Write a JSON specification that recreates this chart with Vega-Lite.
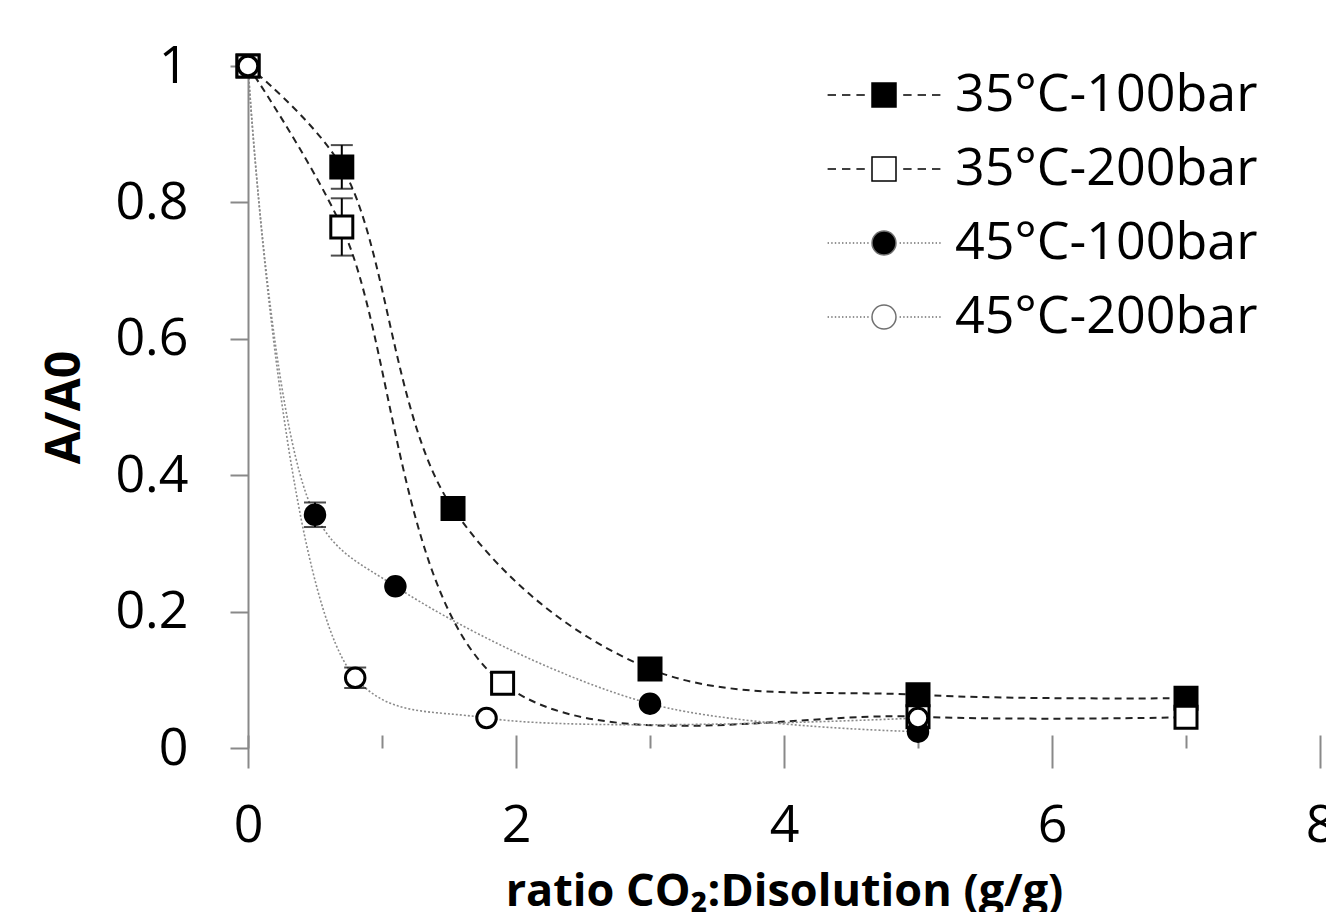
{
  "$schema": "https://vega.github.io/schema/vega-lite/v6.json",
  "width": 1072,
  "height": 682,
  "autosize": {"type": "none"},
  "padding": {"left": 248, "top": 66, "right": 6, "bottom": 164},
  "background": "white",
  "config": {"view": {"stroke": null}, "font": "Open Sans"},
  "datasets": {
    "pts": [
      {"series": "35°C-100bar", "x": 0, "y": 1},
      {"series": "35°C-100bar", "x": 0.7, "y": 0.852, "err": 0.032},
      {"series": "35°C-100bar", "x": 1.53, "y": 0.351, "err": 0.012},
      {"series": "35°C-100bar", "x": 3, "y": 0.116},
      {"series": "35°C-100bar", "x": 5, "y": 0.078},
      {"series": "35°C-100bar", "x": 7, "y": 0.073},
      {"series": "35°C-200bar", "x": 0, "y": 1},
      {"series": "35°C-200bar", "x": 0.7, "y": 0.764, "err": 0.042},
      {"series": "35°C-200bar", "x": 1.9, "y": 0.095},
      {"series": "35°C-200bar", "x": 5, "y": 0.046},
      {"series": "35°C-200bar", "x": 7, "y": 0.045},
      {"series": "45°C-100bar", "x": 0, "y": 1},
      {"series": "45°C-100bar", "x": 0.5, "y": 0.342, "err": 0.018},
      {"series": "45°C-100bar", "x": 1.1, "y": 0.237},
      {"series": "45°C-100bar", "x": 3, "y": 0.065},
      {"series": "45°C-100bar", "x": 5, "y": 0.024},
      {"series": "45°C-200bar", "x": 0, "y": 1},
      {"series": "45°C-200bar", "x": 0.8, "y": 0.103, "err": 0.015},
      {"series": "45°C-200bar", "x": 1.78, "y": 0.044},
      {"series": "45°C-200bar", "x": 5, "y": 0.044}
    ]
  },
  "data": {"name": "pts"},
  "resolve": {"scale": {"fill": "independent"}, "legend": {"fill": "independent"}},
  "encoding": {
    "x": {
      "field": "x", "type": "quantitative",
      "scale": {"domain": [0, 8], "nice": false, "zero": false},
      "axis": {
        "title": "ratio CO₂:Disolution (g/g)",
        "values": [0, 1, 2, 3, 4, 5, 6, 7, 8],
        "offset": -13, "domain": false, "grid": false,
        "tickSize": {"condition": {"test": "datum.value % 2 === 0", "value": 33}, "value": 13},
        "tickColor": "#898989", "tickWidth": 2,
        "labelExpr": "datum.value % 2 === 0 ? datum.label : ''",
        "labelFont": "Open Sans", "labelFontSize": 52, "labelColor": "black",
        "labelPadding": 32, "labelFlush": false, "labelOverlap": false,
        "titleFont": "Open Sans", "titleFontSize": 45, "titleFontWeight": "bold",
        "titleColor": "black", "titlePadding": 18
      }
    },
    "y": {
      "field": "y", "type": "quantitative",
      "scale": {"domain": [0, 1], "nice": false},
      "axis": {
        "title": "A/A0",
        "values": [0, 0.2, 0.4, 0.6, 0.8, 1],
        "format": "~g", "grid": false,
        "tickSize": 18, "tickColor": "#898989", "tickWidth": 2,
        "domainColor": "#898989", "domainWidth": 2,
        "labelFont": "Open Sans", "labelFontSize": 52, "labelColor": "black",
        "labelPadding": 42, "labelOverlap": false,
        "titleFont": "Open Sans", "titleFontSize": 48, "titleFontWeight": "bold",
        "titleColor": "black", "titlePadding": 25
      }
    }
  },
  "layer": [
    {
      "data": {"values": [{}]},
      "mark": {"type": "rule", "color": "#898989", "strokeWidth": 2},
      "encoding": {"x": {"datum": 0}, "x2": {"datum": 8}, "y": {"datum": 0}}
    },
    {
      "transform": [{"filter": "indexof(datum.series, '35') === 0"}],
      "mark": {"type": "line", "interpolate": "catmull-rom", "color": "#222222", "strokeWidth": 2, "strokeDash": [7, 5]},
      "encoding": {"detail": {"field": "series"}}
    },
    {
      "transform": [{"filter": "indexof(datum.series, '45') === 0"}],
      "mark": {"type": "line", "interpolate": "catmull-rom", "color": "#8a8a8a", "strokeWidth": 1.6, "strokeDash": [2, 2]},
      "encoding": {"detail": {"field": "series"}}
    },
    {
      "transform": [{"filter": "isValid(datum.err)"}],
      "mark": {"type": "errorbar", "color": "black", "ticks": {"size": 22, "thickness": 2, "color": "black"}, "rule": {"strokeWidth": 2, "color": "black"}},
      "encoding": {"yError": {"field": "err"}}
    },
    {
      "transform": [{"filter": "indexof(datum.series, '35') === 0"}],
      "mark": {"type": "point", "shape": "square", "size": 484, "filled": true, "stroke": "black", "strokeWidth": 3, "opacity": 1},
      "encoding": {
        "fill": {
          "field": "series", "type": "nominal",
          "scale": {"domain": ["35°C-100bar", "35°C-200bar"], "range": ["black", "white"]},
          "legend": {
            "orient": "none", "legendX": 610, "legendY": 3, "title": null, "padding": 0,
            "labelFont": "Open Sans", "labelFontSize": 52, "labelColor": "black", "labelLimit": 0,
            "labelOffset": 45, "rowPadding": 22, "symbolSize": 576,
            "symbolStrokeWidth": 1.5, "symbolStrokeColor": "#000000", "symbolOpacity": 1,
            "symbolType": "M-1,-1H1V1H-1Z M-4.7,0H-4 M-3.5,0H-2.8 M-2.3,0H-1.6 M1.6,0H2.3 M2.8,0H3.5 M4,0H4.7"
          }
        }
      }
    },
    {
      "transform": [{"filter": "indexof(datum.series, '45') === 0"}],
      "mark": {"type": "point", "shape": "circle", "size": 380, "filled": true, "stroke": "black", "strokeWidth": 3, "opacity": 1},
      "encoding": {
        "fill": {
          "field": "series", "type": "nominal",
          "scale": {"domain": ["45°C-100bar", "45°C-200bar"], "range": ["black", "white"]},
          "legend": {
            "orient": "none", "legendX": 610, "legendY": 151, "title": null, "padding": 0,
            "labelFont": "Open Sans", "labelFontSize": 52, "labelColor": "black", "labelLimit": 0,
            "labelOffset": 45, "rowPadding": 22, "symbolSize": 576,
            "symbolStrokeWidth": 1.5, "symbolStrokeColor": "#707070", "symbolOpacity": 1,
            "symbolType": "M1,0A1,1,0,1,1,-1,0A1,1,0,1,1,1,0Z M-4.7,0h0.12 M-4.4,0h0.12 M-4.1,0h0.12 M-3.8,0h0.12 M-3.5,0h0.12 M-3.2,0h0.12 M-2.9,0h0.12 M-2.6,0h0.12 M-2.3,0h0.12 M-2,0h0.12 M-1.7,0h0.12 M-1.4,0h0.12 M1.3,0h0.12 M1.6,0h0.12 M1.9,0h0.12 M2.2,0h0.12 M2.5,0h0.12 M2.8,0h0.12 M3.1,0h0.12 M3.4,0h0.12 M3.7,0h0.12 M4,0h0.12 M4.3,0h0.12 M4.6,0h0.12"
          }
        }
      }
    }
  ]
}
